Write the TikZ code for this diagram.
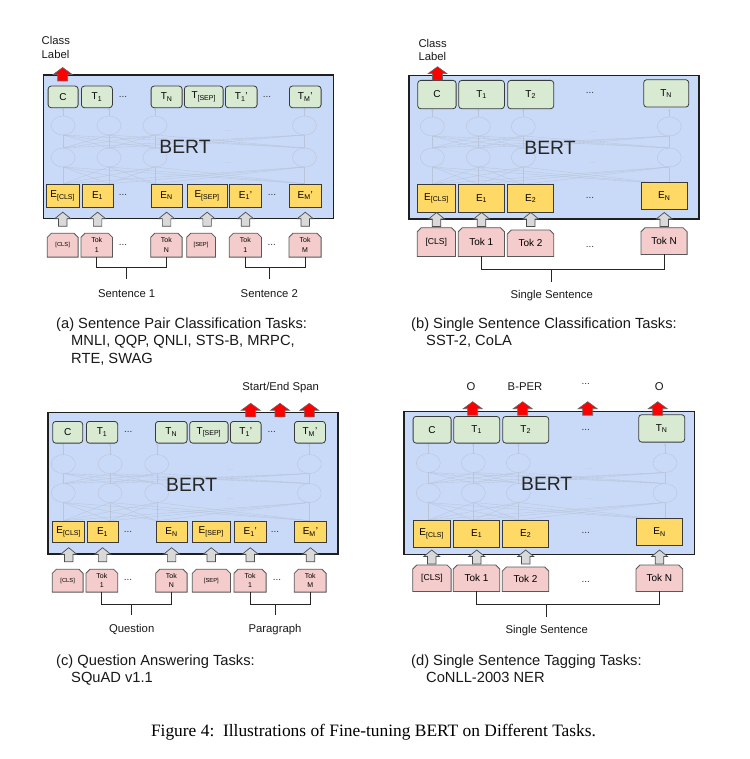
\documentclass[tikz,border=0pt]{standalone}
\usepackage{fontspec}
\setmainfont{Liberation Sans}
\newfontfamily\serifcap{Liberation Serif}
\usetikzlibrary{arrows.meta,calc}
\definecolor{bertblue}{HTML}{C9DAF8}
\definecolor{tgreen}{HTML}{D9EAD3}
\definecolor{eyellow}{HTML}{FFD966}
\definecolor{tokpink}{HTML}{F4CCCC}
\definecolor{arrgray}{HTML}{D9D9D9}
\definecolor{boxline}{HTML}{3A3A3A}
\definecolor{faintc}{HTML}{B9C4DB}
\definecolor{faintel}{HTML}{BCC7DE}
\definecolor{redarr}{HTML}{FF0000}
\tikzset{
  bertbox/.style={draw=black!88, fill=bertblue, line width=1.4pt, inner sep=0pt},
  tbox/.style={draw=boxline, fill=tgreen, rounded corners=3pt, line width=0.8pt, inner sep=0pt, font=\fontsize{10}{12}\selectfont},
  ebox/.style={draw=boxline, fill=eyellow, line width=0.8pt, inner sep=0pt, font=\fontsize{10}{12}\selectfont},
  tokn/.style={inner sep=0pt},
  tokd/.style={draw=boxline!85, fill=tokpink, line width=0.8pt},
  tokt/.style={inner sep=0pt, align=center},
  garrow/.style={draw=black!70, fill=arrgray, line width=0.7pt},
  rarrow/.style={draw=black!60, fill=redarr, line width=0.6pt},
  lbl/.style={font=\fontsize{11.3}{13.5}\selectfont, inner sep=0pt, text=black!90},
  capt/.style={font=\fontsize{14.7}{17.5}\selectfont, inner sep=0pt, text=black!90},
  dotsn/.style={font=\fontsize{10}{12}\selectfont, inner sep=0pt, text=black!80},
  faintdots/.style={font=\fontsize{8}{10}\selectfont, inner sep=0pt, text=faintc},
  faint/.style={draw=faintc, line width=0.35pt},
  faintell/.style={draw=faintel, line width=0.5pt},
  berttxt/.style={font=\fontsize{19.3}{22}\selectfont, inner sep=0pt, text=black!85},
  brk/.style={draw=black!85, line width=0.8pt},
}
% box: style, name, x1, x2, y1, y2, text
\newcommand\B[7]{\node[#1, anchor=north west, minimum width={(#4-#3)*1pt}, minimum height={(#6-#5)*1pt}] (#2) at (#3,#5) {#7};}
% token box: name, x1, x2, y1, y2, font, text
\newcommand\tok[7]{%
  \node[tokn, anchor=north west, minimum width={(#3-#2)*1pt}, minimum height={(#5-#4)*1pt}] (#1) at (#2,#4) {};
  \draw[tokd] (#1.south west) -- ([yshift=-4pt]#1.north west) -- ([xshift=4pt]#1.north west) -- ([xshift=-4pt]#1.north east) -- ([yshift=-4pt]#1.north east) -- (#1.south east) -- cycle;
  \node[tokt, font=#6] (#1t) at (#1.center) {#7};}
% gray arrow: node anchor, tip y
\newcommand\garr[2]{\draw[garrow] (#1 |- 0,#2) -- ++(8,6.5) -- ++(-3.75,0) -- ++(0,7.5) -- ++(-8.5,0) -- ++(0,-7.5) -- ++(-3.75,0) -- cycle;}
% red arrow: x, tip y
\newcommand\rarr[2]{\draw[rarrow] (#1,#2) -- ++(9.5,7) -- ++(-4.5,0) -- ++(0,6.5) -- ++(-10,0) -- ++(0,-6.5) -- ++(-4.5,0) -- cycle;}
% faint network: c1..c4, T bottom, upper y, lower y, E top, dots x
\newcommand\net[9]{%
  \foreach \p in {#1,#2,#3,#4}{%
    \foreach \q in {#1,#2,#3,#4}{%
      \draw[faint] (\p,#8) -- (\q,#7+9.5);
      \draw[faint] (\p,#7-9.5) -- (\q,#6+9.5);
    }
    \draw[faintell] (\p,#6) ellipse (12 and 9.5);
    \draw[faintell] (\p,#7) ellipse (12 and 9.5);
    \draw[faint,-{Latex[length=2.2pt,width=2.2pt]}] (\p,#6-9.5) -- (\p,#5+0.5);
  }
  \node[faintdots] at (#9,#6+6) {...};
  \node[faintdots] at (#9,#7+6) {...};
}
\newcommand\sm{\fontsize{7}{9.5}\selectfont}
\newcommand\xs{\fontsize{5.8}{7}\selectfont}
\newcommand\md{\fontsize{10}{12}\selectfont}
\newcommand\mdb{\fontsize{8.6}{10}\selectfont}
\begin{document}
\begin{tikzpicture}[x=1pt,y=-1pt]
\useasboundingbox[fill=white] (0,0) rectangle (749,759);

% ================= (a) =================
\B{bertbox}{aB}{42.7}{332.7}{74.3}{217.7}{}
\net{63}{109}{155}{304.5}{107.3}{125.5}{157.5}{183.7}{227.7}
\node[berttxt] (aBT) at (185,147.3) {BERT};
\B{tbox}{aC}{47.7}{77.7}{85.7}{107.3}{C}
\B{tbox}{aT1}{81}{112}{85.7}{107.3}{T\textsubscript{1}}
\node[dotsn] (aTd1) at (123,96.5) {...};
\B{tbox}{aTN}{150.7}{181.7}{85.7}{107.3}{T\textsubscript{N}}
\B{tbox}{aTS}{184}{222.7}{85.7}{107.3}{T\textsubscript{[SEP]}}
\B{tbox}{aT1p}{225}{256.7}{85.7}{107.3}{T\textsubscript{1}'}
\node[dotsn] (aTd2) at (267,96.5) {...};
\B{tbox}{aTMp}{289}{320.7}{85.7}{107.3}{T\textsubscript{M}'}
\B{ebox}{aEC}{45.7}{79}{183.7}{206.7}{E\textsubscript{[CLS]}}
\B{ebox}{aE1}{81.7}{112.7}{183.7}{206.7}{E\textsubscript{1}}
\node[dotsn] (aEd1) at (123,195) {...};
\B{ebox}{aEN}{150.7}{181.7}{183.7}{206.7}{E\textsubscript{N}}
\B{ebox}{aES}{186.7}{226.7}{183.7}{206.7}{E\textsubscript{[SEP]}}
\B{ebox}{aE1p}{229.3}{261}{183.7}{206.7}{E\textsubscript{1}'}
\node[dotsn] (aEd2) at (272,195) {...};
\B{ebox}{aEMp}{289}{320.7}{183.7}{206.7}{E\textsubscript{M}'}
\foreach \n in {aEC,aE1,aEN,aES,aE1p,aEMp}{\garr{\n.south}{212.2}}
\tok{aKC}{47.3}{77.7}{233.3}{256.7}{\xs}{[CLS]}
\tok{aK1}{81}{112}{233.3}{256.7}{\sm}{Tok\\1}
\node[dotsn] (aKd1) at (123,245) {...};
\tok{aKN}{150.7}{181.7}{233.3}{256.7}{\sm}{Tok\\N}
\tok{aKS}{186.7}{215}{233.3}{256.7}{\xs}{[SEP]}
\tok{aK1p}{229.3}{261}{233.3}{256.7}{\sm}{Tok\\1}
\node[dotsn] (aKd2) at (271.7,245) {...};
\tok{aKM}{289}{320.7}{233.3}{256.7}{\sm}{Tok\\M}
\node[lbl, anchor=base west] (aCL1) at (41.5,45) {Class};
\node[lbl, anchor=base west] (aCL2) at (41.5,59) {Label};
\rarr{62.7}{67.5}
\node[lbl, anchor=base] (aS1) at (126.7,297.3) {Sentence 1};
\draw[brk] (aK1.south) -- (aK1.south |- 0,267.7) -- (aKN.south |- 0,267.7) -- (aKN.south);
\draw[brk] (aS1 |- 0,267.7) -- (aS1 |- 0,279.3);
\node[lbl, anchor=base] (aS2) at (269.3,297.3) {Sentence 2};
\draw[brk] (aK1p.south) -- (aK1p.south |- 0,267.7) -- (aKM.south |- 0,267.7) -- (aKM.south);
\draw[brk] (aS2 |- 0,267.7) -- (aS2 |- 0,279.3);
\node[capt, anchor=base west] (capA1) at (56,328) {(a) Sentence Pair Classification Tasks:};
\node[capt, anchor=base west] (capA2) at (71,345.5) {MNLI, QQP, QNLI, STS-B, MRPC,};
\node[capt, anchor=base west] (capA3) at (71,363) {RTE, SWAG};

% ================= (b) =================
\B{bertbox}{bB}{408.3}{698.3}{75}{218.3}{}
\net{432.3}{478.3}{523.3}{669.3}{108.3}{126.5}{157.5}{184.3}{593}
\node[berttxt] (bBT) at (550,148.3) {BERT};
\B{tbox}{bC}{417.3}{455.7}{80}{108.3}{C}
\B{tbox}{bT1}{458.3}{504}{80}{108.3}{T\textsubscript{1}}
\B{tbox}{bT2}{507.3}{553.3}{80}{108.3}{T\textsubscript{2}}
\node[dotsn] (bTd) at (590,92.7) {...};
\B{tbox}{bTN}{643.3}{688.3}{79.3}{106.7}{T\textsubscript{N}}
\B{ebox}{bEC}{417.3}{455}{184.3}{211.7}{E\textsubscript{[CLS]}}
\B{ebox}{bE1}{458.3}{504}{184.3}{211.7}{E\textsubscript{1}}
\B{ebox}{bE2}{507.3}{553.3}{184.3}{211.7}{E\textsubscript{2}}
\node[dotsn] (bEd) at (590,198) {...};
\B{ebox}{bEN}{641}{686.7}{182.3}{209}{E\textsubscript{N}}
\foreach \n in {bEC,bE1,bE2,bEN}{\garr{\n.south}{212.5}}
\tok{bKC}{417.3}{455}{227.7}{256}{\mdb}{[CLS]}
\tok{bK1}{458.3}{504}{227.7}{256}{\md}{Tok 1}
\tok{bK2}{507.3}{553.3}{230}{256}{\md}{Tok 2}
\node[dotsn] (bKd) at (590,246.7) {...};
\tok{bKN}{641}{686.7}{227.7}{254}{\md}{Tok N}
\node[lbl, anchor=base west] (bCL1) at (418.3,48) {Class};
\node[lbl, anchor=base west] (bCL2) at (418.3,60.7) {Label};
\rarr{437.5}{66.7}
\node[lbl, anchor=base] (bS) at (551.7,298.3) {Single Sentence};
\draw[brk] (bK1.south) -- (bK1.south |- 0,269.3) -- (bKN.south |- 0,269.3) -- (bKN.south);
\draw[brk] (bS |- 0,269.3) -- (bS |- 0,281.7);
\node[capt, anchor=base west] (capB1) at (411,328) {(b) Single Sentence Classification Tasks:};
\node[capt, anchor=base west] (capB2) at (426,345.5) {SST-2, CoLA};

% ================= (c) =================
\B{bertbox}{cB}{47.3}{337.3}{411.7}{553.3}{}
\net{63.3}{110}{156.7}{309.3}{442.7}{464}{493}{520.7}{230}
\node[berttxt] (cBT) at (191.7,485) {BERT};
\B{tbox}{cC}{52.3}{82.3}{421}{442.7}{C}
\B{tbox}{cT1}{86}{117.3}{421}{442.7}{T\textsubscript{1}}
\node[dotsn] (cTd1) at (128.3,432) {...};
\B{tbox}{cTN}{155}{186.7}{421}{442.7}{T\textsubscript{N}}
\B{tbox}{cTS}{189.3}{227.7}{421}{442.7}{T\textsubscript{[SEP]}}
\B{tbox}{cT1p}{230}{260.7}{421}{442.7}{T\textsubscript{1}'}
\node[dotsn] (cTd2) at (271.7,432) {...};
\B{tbox}{cTMp}{294}{325}{421}{442.7}{T\textsubscript{M}'}
\B{ebox}{cEC}{52.3}{84.3}{520.7}{542.3}{E\textsubscript{[CLS]}}
\B{ebox}{cE1}{86.7}{117.7}{520.7}{542.3}{E\textsubscript{1}}
\node[dotsn] (cEd1) at (128,531.5) {...};
\B{ebox}{cEN}{155.7}{186.7}{520.7}{542.3}{E\textsubscript{N}}
\B{ebox}{cES}{191.7}{230}{520.7}{542.3}{E\textsubscript{[SEP]}}
\B{ebox}{cE1p}{234}{265.7}{520.7}{542.3}{E\textsubscript{1}'}
\node[dotsn] (cEd2) at (275,531.5) {...};
\B{ebox}{cEMp}{294.3}{325.7}{520.7}{542.3}{E\textsubscript{M}'}
\foreach \n in {cEC,cE1,cEN,cES,cE1p,cEMp}{\garr{\n.south}{547.7}}
\tok{cKC}{52.3}{82.7}{569.3}{591.7}{\xs}{[CLS]}
\tok{cK1}{86}{117.3}{569.3}{591.7}{\sm}{Tok\\1}
\node[dotsn] (cKd1) at (128,580) {...};
\tok{cKN}{155.7}{186.7}{569.3}{591.7}{\sm}{Tok\\N}
\tok{cKS}{192.3}{230}{569.3}{591.7}{\xs}{[SEP]}
\tok{cK1p}{234}{265.7}{569.3}{591.7}{\sm}{Tok\\1}
\node[dotsn] (cKd2) at (277,580) {...};
\tok{cKM}{294.3}{325.7}{569.3}{591.7}{\sm}{Tok\\M}
\node[lbl, anchor=base] (cSpan) at (280.7,390.7) {Start/End Span};
\rarr{250.7}{403.3}
\rarr{280}{403.3}
\rarr{309.3}{403.3}
\node[lbl, anchor=base] (cQ) at (131.7,632.3) {Question};
\draw[brk] (cK1.south) -- (cK1.south |- 0,604.3) -- (cKN.south |- 0,604.3) -- (cKN.south);
\draw[brk] (cQ |- 0,604.3) -- (cQ |- 0,615);
\node[lbl, anchor=base] (cP) at (275,632.3) {Paragraph};
\draw[brk] (cK1p.south) -- (cK1p.south |- 0,604.3) -- (cKM.south |- 0,604.3) -- (cKM.south);
\draw[brk] (cP |- 0,604.3) -- (cP |- 0,615);
\node[capt, anchor=base west] (capC1) at (56,665) {(c) Question Answering Tasks:};
\node[capt, anchor=base west] (capC2) at (71,682.5) {SQuAD v1.1};

% ================= (d) =================
\B{bertbox}{dB}{403.3}{694}{411}{554}{}
\net{428.3}{473.3}{518.3}{665}{442.7}{463}{493}{520}{589}
\node[berttxt] (dBT) at (546.7,484) {BERT};
\B{tbox}{dC}{412.7}{450.7}{416}{442.7}{C}
\B{tbox}{dT1}{453.3}{499.3}{416}{442.7}{T\textsubscript{1}}
\B{tbox}{dT2}{502.3}{548.3}{416}{442.7}{T\textsubscript{2}}
\node[dotsn] (dTd) at (585.7,430) {...};
\B{tbox}{dTN}{638.3}{684.3}{414.3}{441.7}{T\textsubscript{N}}
\B{ebox}{dEC}{412.7}{450}{520}{546.7}{E\textsubscript{[CLS]}}
\B{ebox}{dE1}{453.3}{499.3}{520}{546.7}{E\textsubscript{1}}
\B{ebox}{dE2}{502.3}{548.3}{520}{546.7}{E\textsubscript{2}}
\node[dotsn] (dEd) at (585.7,533.3) {...};
\B{ebox}{dEN}{636}{682.3}{518.3}{545}{E\textsubscript{N}}
\foreach \n in {dEC,dE1,dE2,dEN}{\garr{\n.south}{550}}
\tok{dKC}{412.7}{450.7}{565}{591}{\mdb}{[CLS]}
\tok{dK1}{453.3}{499.3}{565}{591}{\md}{Tok 1}
\tok{dK2}{502.3}{548.3}{567}{591}{\md}{Tok 2}
\node[dotsn] (dKd) at (585.7,581.7) {...};
\tok{dKN}{636}{682.3}{565}{591}{\md}{Tok N}
\node[lbl, anchor=base] (dO1) at (471,390.7) {O};
\node[lbl, anchor=base] (dBP) at (525,390.7) {B-PER};
\node[dotsn] (dDots) at (585.7,384) {...};
\node[lbl, anchor=base] (dO2) at (659.3,390.7) {O};
\rarr{472.7}{401.7}
\rarr{522.7}{401.7}
\rarr{587.7}{401.7}
\rarr{657.7}{401.7}
\node[lbl, anchor=base] (dS) at (546.7,633.3) {Single Sentence};
\draw[brk] (dK1.south) -- (dK1.south |- 0,604.3) -- (dKN.south |- 0,604.3) -- (dKN.south);
\draw[brk] (dS |- 0,604.3) -- (dS |- 0,617.3);
\node[capt, anchor=base west] (capD1) at (411,665) {(d) Single Sentence Tagging Tasks:};
\node[capt, anchor=base west] (capD2) at (426,682.5) {CoNLL-2003 NER};

% ================= caption =================
\node[font=\serifcap\fontsize{17.4}{20}\selectfont, inner sep=0pt, anchor=base] (figcap) at (373.5,736) {Figure 4:\ \ Illustrations of Fine-tuning BERT on Different Tasks.};
\end{tikzpicture}
\end{document}
